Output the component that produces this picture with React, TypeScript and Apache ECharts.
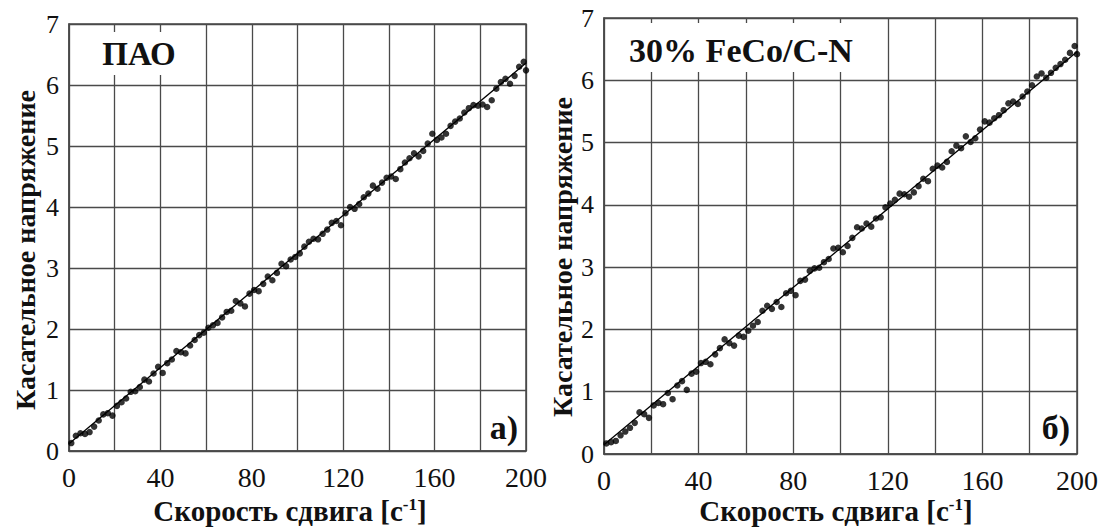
import React, { useEffect, useRef } from "react";
import * as echarts from "echarts";

// Shear rate values (s^-1) shared by both samples
const shearRate: number[] = [
  1, 3, 5, 7, 9, 11, 13, 15, 17, 19, 21, 23, 25, 27, 29, 31, 33, 35, 37, 39,
  41, 43, 45, 47, 49, 51, 53, 55, 57, 59, 61, 63, 65, 67, 69, 71, 73, 75, 77, 79,
  81, 83, 85, 87, 89, 91, 93, 95, 97, 99, 101, 103, 105, 107, 109, 111, 113, 115, 117, 119,
  121, 123, 125, 127, 129, 131, 133, 135, 137, 139, 141, 143, 145, 147, 149, 151, 153, 155, 157, 159,
  161, 163, 165, 167, 169, 171, 173, 175, 177, 179, 181, 183, 185, 187, 189, 191, 193, 195, 197, 199, 200,
];

// Shear stress, PAO base oil
const stressPAO: number[] = [
  0.13, 0.25, 0.29, 0.28, 0.31, 0.40, 0.50, 0.60, 0.62, 0.58, 0.74, 0.80, 0.86, 0.97, 0.98, 1.05, 1.17, 1.14, 1.27, 1.38,
  1.28, 1.44, 1.50, 1.64, 1.62, 1.60, 1.73, 1.82, 1.90, 1.94, 2.02, 2.06, 2.10, 2.19, 2.28, 2.30, 2.46, 2.42, 2.37, 2.58,
  2.64, 2.62, 2.74, 2.86, 2.80, 2.92, 3.07, 3.03, 3.14, 3.18, 3.24, 3.35, 3.43, 3.48, 3.47, 3.56, 3.63, 3.74, 3.77, 3.70,
  3.90, 4.00, 3.97, 4.05, 4.16, 4.22, 4.35, 4.30, 4.40, 4.48, 4.50, 4.46, 4.62, 4.73, 4.80, 4.88, 4.83, 4.92, 5.04, 5.20,
  5.10, 5.14, 5.20, 5.33, 5.40, 5.45, 5.55, 5.62, 5.67, 5.66, 5.68, 5.64, 5.75, 5.94, 6.05, 6.10, 6.02, 6.15, 6.30, 6.38, 6.24,
];

// Shear stress, 30% FeCo/C-N suspension
const stressFeCo: number[] = [
  0.17, 0.19, 0.21, 0.30, 0.36, 0.42, 0.50, 0.67, 0.64, 0.58, 0.78, 0.82, 0.80, 0.98, 0.88, 1.10, 1.17, 1.03, 1.29, 1.32,
  1.46, 1.48, 1.44, 1.60, 1.70, 1.84, 1.78, 1.74, 1.90, 1.88, 1.98, 2.06, 2.12, 2.30, 2.38, 2.33, 2.44, 2.36, 2.58, 2.62,
  2.55, 2.78, 2.80, 2.94, 2.98, 2.99, 3.08, 3.13, 3.30, 3.31, 3.24, 3.34, 3.47, 3.64, 3.62, 3.70, 3.65, 3.78, 3.80, 3.96,
  4.02, 4.08, 4.18, 4.17, 4.13, 4.20, 4.30, 4.42, 4.38, 4.58, 4.63, 4.60, 4.69, 4.86, 4.95, 4.91, 5.10, 5.01, 5.07, 5.21,
  5.34, 5.32, 5.39, 5.44, 5.52, 5.63, 5.66, 5.62, 5.74, 5.82, 5.92, 6.06, 6.11, 6.04, 6.12, 6.20, 6.26, 6.33, 6.44, 6.55, 6.42,
];

// Linear fits (end points)
const fitPAO: [number, number][] = [[0, 0.12], [200, 6.36]];
const fitFeCo: [number, number][] = [[0, 0.15], [200, 6.46]];

const panelTitles = ["ПАО", "30% FeCo/C-N"];
const panelLetters = ["а)", "б)"];
const xTitle = "Скорость сдвига [с";
const yTitle = "Касательное напряжение";

const SERIF = "Liberation Serif, Times New Roman, serif";
const INK = "#111";
const GRID = "#4a4a4a";

const grids = [
  { left: 69, top: 24, width: 457, height: 427 },
  { left: 604, top: 18, width: 473, height: 436 },
];

function App() {
  const ref = useRef<HTMLDivElement>(null);

  useEffect(() => {
    if (!ref.current) return;
    const chart = echarts.init(ref.current, null, { renderer: "svg" });

    const pair = (ys: number[]) => shearRate.map((x, i) => [x, ys[i]]);

    const xAxis = grids.map((_, i) => ({
      type: "value",
      gridIndex: i,
      min: 0,
      max: 200,
      interval: 20,
      axisLine: { show: true, lineStyle: { color: GRID, width: 1.5 } },
      axisTick: { show: false },
      splitLine: { show: true, lineStyle: { color: GRID, width: 1.3 } },
      axisLabel: {
        fontFamily: SERIF,
        fontSize: 28,
        color: INK,
        margin: 12,
        formatter: (v: number) => (v % 40 === 0 ? String(v) : ""),
      },
    }));

    const yAxis = grids.map((_, i) => ({
      type: "value",
      gridIndex: i,
      min: 0,
      max: 7,
      interval: 1,
      axisLine: { show: true, lineStyle: { color: GRID, width: 1.5 } },
      axisTick: { show: false },
      splitLine: { show: true, lineStyle: { color: GRID, width: 1.3 } },
      axisLabel: { fontFamily: SERIF, fontSize: 26, color: INK, margin: 10 },
    }));

    const scatter = (data: number[][], i: number) => ({
      type: "scatter",
      xAxisIndex: i,
      yAxisIndex: i,
      data,
      symbol: "circle",
      symbolSize: 6.5,
      itemStyle: { color: "#000" },
      z: 3,
    });

    const fit = (data: [number, number][], i: number) => ({
      type: "line",
      xAxisIndex: i,
      yAxisIndex: i,
      data,
      showSymbol: false,
      lineStyle: { color: "#000", width: 1.3 },
      z: 4,
    });

    const xTitleText = (cx: number) => ({
      type: "text",
      x: cx,
      y: 511,
      z: 100,
      style: {
        text: `{a|${xTitle}}{s|-1}{a|]}`,
        align: "center",
        verticalAlign: "middle",
        rich: {
          a: { fontFamily: SERIF, fontSize: 29, fontWeight: "bold", fill: INK, color: INK },
          s: {
            fontFamily: SERIF,
            fontSize: 17,
            fontWeight: "bold",
            fill: INK,
            color: INK,
            verticalAlign: "top",
            padding: [0, 0, 13, 0],
          },
        },
      },
    });

    const yTitleText = (cx: number, cy: number) => ({
      type: "text",
      x: cx,
      y: cy,
      rotation: Math.PI / 2,
      z: 100,
      style: {
        text: yTitle,
        align: "center",
        verticalAlign: "middle",
        fontFamily: SERIF,
        fontSize: 28,
        fontWeight: "bold",
        fill: INK,
      },
    });

    const label = (text: string, x: number, y: number, size: number) => ({
      type: "text",
      x,
      y,
      z: 101,
      style: {
        text,
        align: "center",
        verticalAlign: "middle",
        fontFamily: SERIF,
        fontSize: size,
        fontWeight: "bold",
        fill: INK,
      },
    });

    const box = (x: number, y: number, w: number, h: number) => ({
      type: "rect",
      z: 99,
      shape: { x, y, width: w, height: h },
      style: { fill: "#fff" },
    });

    chart.setOption({
      animation: false,
      backgroundColor: "#fff",
      grid: grids.map((g) => ({
        ...g,
        show: true,
        borderColor: GRID,
        borderWidth: 1.5,
        backgroundColor: "transparent",
        containLabel: false,
      })),
      xAxis,
      yAxis,
      series: [
        scatter(pair(stressPAO), 0),
        fit(fitPAO, 0),
        scatter(pair(stressFeCo), 1),
        fit(fitFeCo, 1),
      ],
      graphic: [
        box(92, 32, 98, 43),
        label(panelTitles[0], 139, 54, 33),
        box(616, 23, 254, 49),
        label(panelTitles[1], 741, 50, 34),
        label(panelLetters[0], 504, 427, 34),
        label(panelLetters[1], 1056, 427, 34),
        xTitleText(290),
        xTitleText(836),
        yTitleText(25, 250),
        yTitleText(562, 257),
      ],
    });

    return () => chart.dispose();
  }, []);

  return (
    <div
      ref={ref}
      style={{ position: "fixed", left: 0, top: 0, width: 1105, height: 529, background: "#fff" }}
    />
  );
}

export default App;
